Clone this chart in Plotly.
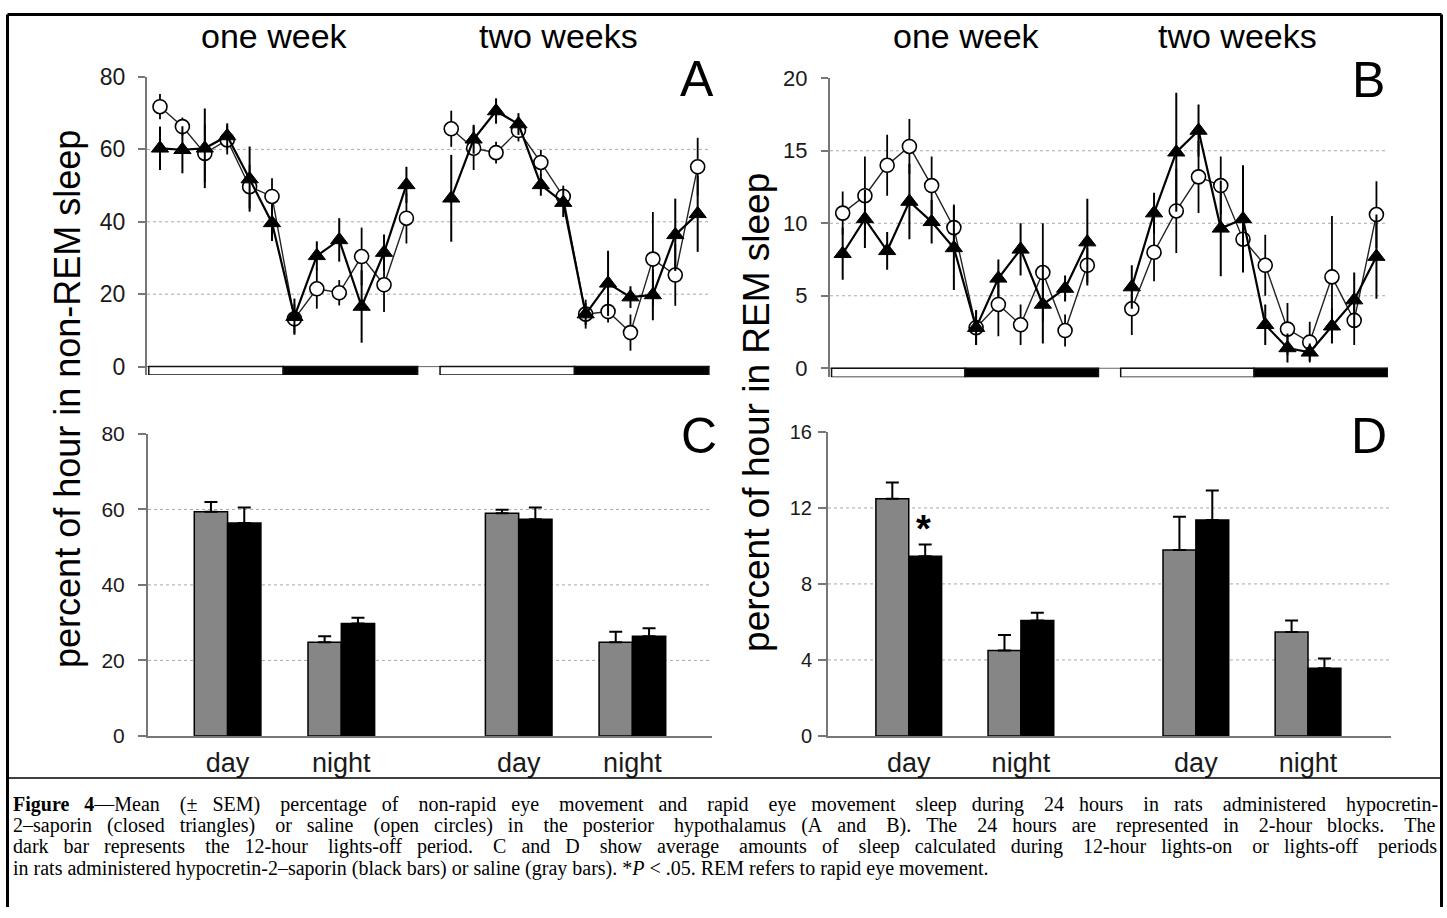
import plotly.graph_objects as go

W, H = 1447, 918

# ---------------- data ----------------
blocks_w1 = list(range(0, 12))      # 2-hour blocks, one week
blocks_w2 = list(range(13, 25))     # 2-hour blocks, two weeks

# Panel A: non-REM sleep (% of hour)
nrem_sal_w1 = [71.8, 66.3, 58.9, 62.6, 49.7, 47.0, 13.2, 21.5, 20.4, 30.4, 22.6, 41.0]
nrem_sal_w1_sem = [3.5, 2.5, 8.0, 4.0, 6.0, 5.0, 4.0, 5.5, 3.5, 8.0, 7.5, 7.0]
nrem_hc_w1 = [60.3, 59.9, 60.3, 63.7, 51.8, 39.7, 13.8, 30.6, 35.0, 16.6, 31.5, 50.2]
nrem_hc_w1_sem = [6.0, 6.5, 11.0, 3.5, 9.0, 5.0, 5.0, 4.0, 6.0, 10.0, 5.0, 5.0]
nrem_sal_w2 = [65.7, 60.3, 59.1, 65.2, 56.4, 47.0, 14.5, 15.2, 9.4, 29.7, 25.3, 55.2]
nrem_sal_w2_sem = [5.0, 6.0, 3.0, 3.0, 3.5, 3.0, 4.0, 3.0, 5.0, 13.0, 8.5, 8.0]
nrem_hc_w2 = [46.5, 62.8, 70.6, 67.0, 50.2, 45.3, 14.5, 23.0, 19.2, 19.8, 36.4, 42.2]
nrem_hc_w2_sem = [12.0, 4.0, 3.5, 3.0, 3.0, 4.0, 3.0, 9.0, 3.0, 7.0, 10.0, 10.5]

# Panel B: REM sleep (% of hour)
rem_sal_w1 = [10.7, 11.9, 14.0, 15.3, 12.6, 9.7, 2.8, 4.4, 3.0, 6.6, 2.6, 7.1]
rem_sal_w1_sem = [1.5, 2.7, 2.1, 1.9, 2.0, 1.6, 1.2, 2.2, 1.4, 3.4, 1.1, 1.2]
rem_hc_w1 = [7.9, 10.3, 8.1, 11.5, 10.1, 8.3, 2.8, 6.2, 8.2, 4.4, 5.5, 8.7]
rem_hc_w1_sem = [1.8, 2.0, 1.3, 2.6, 1.5, 2.9, 1.2, 1.3, 1.8, 2.7, 0.9, 3.0]
rem_sal_w2 = [4.1, 8.0, 10.85, 13.2, 12.6, 8.9, 7.1, 2.7, 1.8, 6.3, 3.3, 10.6]
rem_sal_w2_sem = [1.8, 2.0, 2.9, 2.5, 2.0, 2.2, 2.1, 1.8, 1.4, 4.2, 1.7, 2.3]
rem_hc_w2 = [5.6, 10.7, 14.9, 16.4, 9.65, 10.3, 3.0, 1.4, 1.1, 2.9, 4.7, 7.7]
rem_hc_w2_sem = [1.5, 1.4, 4.1, 1.8, 3.3, 3.7, 1.4, 1.0, 0.6, 1.2, 1.9, 2.9]

# lights on / off periods (in blocks)
lights_on_w1 = (0, 5)
lights_off_w1 = (6, 11)
lights_on_w2 = (13, 18)
lights_off_w2 = (19, 24)

# Panels C and D: 12-hour averages
period_labels = ["day", "night", "day", "night"]
period_pos = [0, 1, 2.56, 3.56]
nrem_avg_sal = [59.4, 24.8, 59.0, 24.8]
nrem_avg_sal_err = [2.6, 1.6, 0.9, 2.8]
nrem_avg_hc = [56.4, 29.8, 57.4, 26.4]
nrem_avg_hc_err = [4.1, 1.5, 3.1, 2.1]
rem_avg_sal = [12.48, 4.49, 9.78, 5.47]
rem_avg_sal_err = [0.86, 0.82, 1.75, 0.60]
rem_avg_hc = [9.46, 6.08, 11.36, 3.56]
rem_avg_hc_err = [0.62, 0.40, 1.56, 0.52]

nrem_ticks = [0, 20, 40, 60, 80]
rem_ticks = [0, 5, 10, 15, 20]
nrem_avg_ticks = [0, 20, 40, 60, 80]
rem_avg_ticks = [0, 4, 8, 12, 16]

caption_lines = [
    "<b>Figure</b> <b>4</b>—Mean (± SEM) percentage of non-rapid eye movement and rapid eye movement sleep during 24 hours in rats administered hypocretin-",
    "2–saporin (closed triangles) or saline (open circles) in the posterior hypothalamus (A and B). The 24 hours are represented in 2-hour blocks. The",
    "dark bar represents the 12-hour lights-off period. C and D show average amounts of sleep calculated during 12-hour lights-on or lights-off periods",
]
caption_last = "in rats administered hypocretin-2–saporin (black bars) or saline (gray bars). *<i>P</i> &lt; .05. REM refers to rapid eye movement."

# ---------------- helpers ----------------
# vertical calibration of the viewer (page y -> picture y = Y0 + SY * y)
Y0, SY = 13.0, 0.974

def pxx(x):
    return x / W

def pxy(y):
    return 1 - ((y - Y0) / SY) / H

SANS = "Liberation Sans, Arial, sans-serif"
SERIF = "Liberation Serif, Times New Roman, serif"
AXC = "#777777"

fig = go.Figure()

def add_week(xa, ya, blocks, sal, sal_e, hc, hc_e):
    fig.add_trace(go.Scatter(
        x=blocks, y=sal, mode="lines+markers", xaxis=xa, yaxis=ya, showlegend=False,
        line=dict(color="#222222", width=1.4),
        marker=dict(symbol="circle", size=14, color="white", line=dict(color="black", width=1.6)),
        error_y=dict(type="data", array=sal_e, color="black", thickness=1.8, width=0)))
    fig.add_trace(go.Scatter(
        x=blocks, y=hc, mode="lines+markers", xaxis=xa, yaxis=ya, showlegend=False,
        line=dict(color="black", width=2.2),
        marker=dict(symbol="triangle-up", size=15, color="black", line=dict(color="black", width=1)),
        error_y=dict(type="data", array=hc_e, color="black", thickness=2, width=0)))

add_week("x", "y", blocks_w1, nrem_sal_w1, nrem_sal_w1_sem, nrem_hc_w1, nrem_hc_w1_sem)
add_week("x", "y", blocks_w2, nrem_sal_w2, nrem_sal_w2_sem, nrem_hc_w2, nrem_hc_w2_sem)
add_week("x2", "y2", blocks_w1, rem_sal_w1, rem_sal_w1_sem, rem_hc_w1, rem_hc_w1_sem)
add_week("x2", "y2", blocks_w2, rem_sal_w2, rem_sal_w2_sem, rem_hc_w2, rem_hc_w2_sem)

def add_bars(xa, ya, sal, sal_e, hc, hc_e):
    fig.add_trace(go.Bar(
        x=period_pos, y=sal, xaxis=xa, yaxis=ya, showlegend=False,
        marker=dict(color="#868686", line=dict(color="black", width=1.5)),
        error_y=dict(type="data", symmetric=False, array=sal_e, arrayminus=[0] * len(sal_e),
                     color="black", thickness=2, width=6.5)))
    fig.add_trace(go.Bar(
        x=period_pos, y=hc, xaxis=xa, yaxis=ya, showlegend=False,
        marker=dict(color="black", line=dict(color="black", width=1.5)),
        error_y=dict(type="data", symmetric=False, array=hc_e, arrayminus=[0] * len(hc_e),
                     color="black", thickness=2, width=6.5)))

add_bars("x3", "y3", nrem_avg_sal, nrem_avg_sal_err, nrem_avg_hc, nrem_avg_hc_err)
add_bars("x4", "y4", rem_avg_sal, rem_avg_sal_err, rem_avg_hc, rem_avg_hc_err)

# ---------------- axes ----------------
def yax(dom, rng, ticks, size, standoff, ticklen=7):
    return dict(domain=[pxy(dom[1]), pxy(dom[0])], range=rng, tickvals=ticks,
                ticks="outside", ticklen=ticklen, tickwidth=1.5, tickcolor=AXC,
                showline=True, linecolor=AXC, linewidth=2, showgrid=False, zeroline=False,
                tickfont=dict(family=SANS, size=size, color="#1a1a1a"),
                ticklabelstandoff=standoff, fixedrange=True)

def hidden_x(dom, rng, anchor):
    return dict(domain=[pxx(dom[0]), pxx(dom[1])], range=rng, visible=False, anchor=anchor,
                showgrid=False, zeroline=False)

def bar_x(dom, rng, anchor):
    return dict(domain=[pxx(dom[0]), pxx(dom[1])], range=rng, anchor=anchor,
                tickvals=period_pos, ticktext=period_labels, ticks="",
                showline=True, linecolor=AXC, linewidth=2, showgrid=False, zeroline=False,
                tickfont=dict(family=SANS, size=27, color="#1a1a1a"), ticklabelstandoff=2)

A_X, A_Y = (147, 710), (77, 375)
B_X, B_Y = (830, 1388), (78.3, 377.3)
C_X, C_Y = (148, 712), (434, 736)
D_X, D_Y = (828, 1391), (432, 736)

fig.update_layout(
    xaxis=hidden_x(A_X, [-0.58, 24.55], "y"),
    yaxis=dict(yax(A_Y, [-2.3, 80], nrem_ticks, 23, 8), anchor="x"),
    xaxis2=hidden_x(B_X, [-0.57, 24.52], "y2"),
    yaxis2=dict(yax(B_Y, [-0.62, 20], rem_ticks, 22, 9), anchor="x2"),
    xaxis3=bar_x(C_X, [-0.70, 4.26], "y3"),
    yaxis3=dict(yax(C_Y, [0, 80], nrem_avg_ticks, 21, 9, 8), anchor="x3"),
    xaxis4=bar_x(D_X, [-0.72, 4.30], "y4"),
    yaxis4=dict(yax(D_Y, [0, 16], rem_avg_ticks, 20, 2, 8), anchor="x4"),
)

shapes = []
def grid(xref, yref, vals):
    for v in vals:
        shapes.append(dict(type="line", xref=xref + " domain", yref=yref, x0=0, x1=1, y0=v, y1=v,
                           line=dict(color="#a8a8a8", width=1, dash="dot"), layer="below"))

grid("x", "y", nrem_ticks[1:-1])
grid("x2", "y2", rem_ticks[1:-1])
grid("x3", "y3", nrem_avg_ticks[1:-1])
grid("x4", "y4", rem_avg_ticks[1:-1])

def light_bar(xref, yref, bottom, xmin, periods):
    shapes.append(dict(type="line", xref=xref + " domain", yref=yref, x0=0, x1=1, y0=0, y1=0,
                       line=dict(color="#666666", width=1), layer="below"))
    for (a, b), dark in periods:
        x0 = max(a - 0.5, xmin)
        shapes.append(dict(type="rect", xref=xref, yref=yref, x0=x0, x1=b + 0.5, y0=bottom, y1=0,
                           fillcolor="black" if dark else "white",
                           line=dict(color="#111111", width=1.5), layer="above"))

periods = [(lights_on_w1, False), (lights_off_w1, True), (lights_on_w2, False), (lights_off_w2, True)]
light_bar("x", "y", -2.3, -0.58, periods)
light_bar("x2", "y2", -0.62, -0.57, periods)

# caption separator and frame (top, left, right edges)
shapes.append(dict(type="line", xref="paper", yref="paper", x0=pxx(7), x1=pxx(1442),
                   y0=pxy(778), y1=pxy(778), line=dict(color="black", width=1.5)))
FT = pxy(14.5)
for x0, y0, x1, y1 in [(7.5, FT, 1441.5, FT), (7.5, 0, 7.5, FT), (1441.5, 0, 1441.5, FT)]:
    shapes.append(dict(type="line", xref="paper", yref="paper",
                       x0=pxx(x0), x1=pxx(x1), y0=y0, y1=y1, line=dict(color="black", width=3)))

# ---------------- annotations ----------------
ann = []
def txt(x, y, t, size, family=SANS, angle=0, xanchor="center"):
    ann.append(dict(x=pxx(x), y=pxy(y), xref="paper", yref="paper", text=t, showarrow=False,
                    xanchor=xanchor, yanchor="middle", textangle=angle, borderpad=0,
                    font=dict(family=family, size=size, color="black")))

txt(274, 36, "one week", 34)
txt(558, 36, "two weeks", 34)
txt(966, 36, "one week", 34)
txt(1237, 36, "two weeks", 34)
txt(697, 79, "A", 50)
txt(1368, 80, "B", 50)
txt(699, 436, "C", 50)
txt(1369, 436, "D", 50)
txt(68, 399, "percent of hour in non-REM sleep", 36, angle=-90)
txt(757, 413, "percent of hour in REM sleep", 37, angle=-90)
txt(923, 529, "<b>*</b>", 38)

# caption: Times metrics used to justify lines with non-breaking spaces
TW = {' ': 250, '(': 333, ')': 333, '*': 500, ',': 250, '-': 333, '.': 250, '<': 564,
      '±': 549, '–': 500, '—': 1000}
for c in '0123456789':
    TW[c] = 500
TW.update(dict(A=722, B=667, C=667, D=722, E=611, F=556, G=722, H=722, I=333, J=389, K=722,
               L=611, M=889, N=722, O=722, P=556, Q=722, R=667, S=556, T=611, U=722, V=722,
               W=944, X=722, Y=722, Z=611))
TW.update(dict(a=444, b=500, c=444, d=500, e=444, f=333, g=500, h=500, i=278, j=278, k=500,
               l=278, m=778, n=500, o=500, p=500, q=500, r=333, s=389, t=278, u=500, v=500,
               w=722, x=500, y=500, z=444))
TWB = dict(F=611, i=278, g=500, u=556, r=444, e=444)

def text_width(wd, size):
    tot, bold, i = 0, False, 0
    while i < len(wd):
        if wd.startswith("<b>", i):
            bold = True; i += 3; continue
        if wd.startswith("</b>", i):
            bold = False; i += 4; continue
        c = wd[i]
        tot += (TWB.get(c, TW.get(c, 500)) if bold else TW.get(c, 500))
        i += 1
    return tot / 1000 * size

CAP = 20
PITCH = 21.4
BASE0 = 811
L0, L1 = 12, 1436
NB = "\u00a0"

def cap_ann(text, baseline):
    ann.append(dict(x=pxx(L0), y=pxy(baseline - 0.34 * CAP), xref="paper", yref="paper",
                    text=text, showarrow=False, xanchor="left", yanchor="middle", borderpad=0,
                    font=dict(family=SERIF, size=CAP, color="black")))

for k, line in enumerate(caption_lines):
    words = line.split(" ")
    natural = text_width(line, CAP)
    ngaps = len(words) - 1
    unit = 0.25 * CAP
    total_extra = max(0, round((L1 - L0 - natural) / unit))
    out = words[0]
    for g in range(ngaps):
        n_extra = (total_extra * (g + 1)) // ngaps - (total_extra * g) // ngaps
        out += NB * (1 + n_extra) + words[g + 1]
    cap_ann(out, BASE0 + k * PITCH)
cap_ann(caption_last, BASE0 + 3 * PITCH)

fig.update_layout(
    width=W, height=H, autosize=False,
    margin=dict(l=0, r=0, t=0, b=0, pad=0),
    paper_bgcolor="white", plot_bgcolor="white",
    barmode="group", bargap=0.414, bargroupgap=0,
    shapes=shapes, annotations=ann,
    font=dict(family=SANS, color="black"),
)

fix_page = ("document.documentElement.style.margin='0';document.documentElement.style.padding='0';"
            "document.body.style.margin='0';document.body.style.padding='0';"
            "document.documentElement.style.overflow='hidden';document.body.style.overflow='hidden';")

fig.write_html("out.html", config={"displayModeBar": False}, post_script=fix_page)
